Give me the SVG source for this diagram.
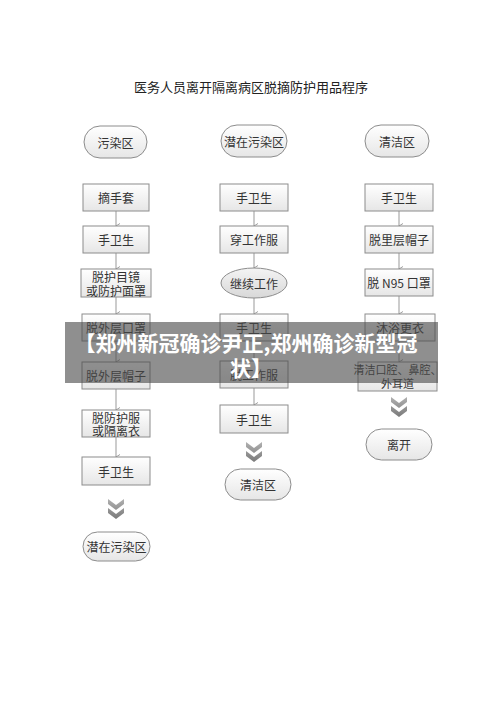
<svg xmlns="http://www.w3.org/2000/svg" width="500" height="706" viewBox="0 0 500 706">
<defs>
<linearGradient id="gb" x1="0" y1="0" x2="0" y2="1"><stop offset="0" stop-color="#ffffff"/><stop offset="1" stop-color="#e6e6e6"/></linearGradient>
<linearGradient id="ge" x1="0" y1="0" x2="0" y2="1"><stop offset="0" stop-color="#f4f4f4"/><stop offset="1" stop-color="#d8d8d8"/></linearGradient>
<linearGradient id="gc" x1="0" y1="0" x2="0" y2="1"><stop offset="0" stop-color="#b0b0b0"/><stop offset="1" stop-color="#7a7a7a"/></linearGradient>
<marker id="ah" markerWidth="6" markerHeight="6" refX="3" refY="5" orient="auto-start-reverse" markerUnits="userSpaceOnUse"><path d="M0.5,1 L3,5 L5.5,1" fill="none" stroke="#888" stroke-width="0.8"/></marker>
<path id="chev" d="M-8,0 L0,6 L8,0 L8,5 L0,11 L-8,5 Z M-8,9 L0,15 L8,9 L8,14 L0,20 L-8,14 Z" fill="url(#gc)"/>
</defs>
<style>
.t{font-family:"Noto Sans CJK SC","Liberation Sans",sans-serif;font-size:12px;fill:#333;text-anchor:middle;dominant-baseline:central}
.box{fill:url(#gb);stroke:#8c8c8c;stroke-width:1}
.pill{fill:url(#gb);stroke:#8c8c8c;stroke-width:1}
.ln{stroke:#999;stroke-width:1;fill:none;marker-end:url(#ah)}
.ttl{font-family:"Noto Sans CJK SC","Liberation Sans",sans-serif;font-size:13px;fill:#222;text-anchor:middle}
.ban{font-family:"Noto Sans CJK SC","Liberation Sans",sans-serif;font-size:21px;font-weight:bold;fill:#fff;text-anchor:middle}
</style>
<rect width="500" height="706" fill="#fff"/>
<text class="ttl" x="251" y="92">医务人员离开隔离病区脱摘防护用品程序</text>

<g id="connectors">
<line class="ln" x1="116" y1="211" x2="116" y2="226"/>
<line class="ln" x1="116" y1="253" x2="116" y2="269"/>
<line class="ln" x1="116" y1="297" x2="116" y2="314"/>
<line class="ln" x1="116" y1="341" x2="116" y2="362"/>
<line class="ln" x1="116" y1="389" x2="116" y2="410"/>
<line class="ln" x1="116" y1="437" x2="116" y2="457"/>
<line class="ln" x1="254" y1="211" x2="254" y2="226"/>
<line class="ln" x1="254" y1="253" x2="254" y2="268"/>
<line class="ln" x1="254" y1="298" x2="254" y2="314"/>
<line class="ln" x1="254" y1="341" x2="254" y2="361"/>
<line class="ln" x1="254" y1="388" x2="254" y2="405"/>
<line class="ln" x1="399" y1="211" x2="399" y2="226"/>
<line class="ln" x1="399" y1="253" x2="399" y2="269"/>
<line class="ln" x1="399" y1="296" x2="399" y2="314"/>
<line class="ln" x1="399" y1="341" x2="399" y2="362"/>
<use href="#chev" x="116" y="499"/>
<use href="#chev" x="254" y="442"/>
<use href="#chev" x="399" y="397"/>
</g>

<g id="n-wr"><rect class="pill" x="84" y="126" width="63" height="32" rx="16"/><text class="t" x="115.5" y="142">污染区</text></g>
<g id="n-qz"><rect class="pill" x="221" y="125" width="66" height="32" rx="16"/><text class="t" x="254" y="141">潜在污染区</text></g>
<g id="n-qj"><rect class="pill" x="365" y="125" width="64" height="32" rx="16"/><text class="t" x="397" y="141">清洁区</text></g>

<g id="c1-1"><rect class="box" x="83" y="184" width="66" height="27"/><text class="t" x="116" y="197.5">摘手套</text></g>
<g id="c1-2"><rect class="box" x="83" y="226" width="66" height="27"/><text class="t" x="116" y="239.5">手卫生</text></g>
<g id="c1-3"><rect class="box" x="81" y="269" width="70" height="28"/><text class="t" x="116" y="276">脱护目镜</text><text class="t" x="116" y="290">或防护面罩</text></g>
<g id="c1-4"><rect class="box" x="82" y="314" width="68" height="27"/><text class="t" x="116" y="327.5">脱外层口罩</text></g>
<g id="c1-5"><rect class="box" x="82" y="362" width="68" height="27"/><text class="t" x="116" y="375.5">脱外层帽子</text></g>
<g id="c1-6"><rect class="box" x="82" y="410" width="68" height="27"/><text class="t" x="116" y="417">脱防护服</text><text class="t" x="116" y="430">或隔离衣</text></g>
<g id="c1-7"><rect class="box" x="82" y="457" width="68" height="28"/><text class="t" x="116" y="471">手卫生</text></g>
<g id="c1-end"><rect class="pill" x="83" y="532" width="67" height="29" rx="14.5"/><text class="t" x="116.5" y="546.5">潜在污染区</text></g>

<g id="c2-1"><rect class="box" x="220" y="184" width="68" height="27"/><text class="t" x="254" y="197.5">手卫生</text></g>
<g id="c2-2"><rect class="box" x="220" y="226" width="68" height="27"/><text class="t" x="254" y="239.5">穿工作服</text></g>
<g id="c2-3"><ellipse cx="254" cy="283" rx="33" ry="15" fill="url(#ge)" stroke="#8c8c8c"/><text class="t" x="254" y="283">继续工作</text></g>
<g id="c2-4"><rect class="box" x="220" y="314" width="68" height="27"/><text class="t" x="254" y="327.5">手卫生</text></g>
<g id="c2-5"><rect class="box" x="220" y="361" width="68" height="27"/><text class="t" x="254" y="374.5">脱工作服</text></g>
<g id="c2-6"><rect class="box" x="220" y="405" width="68" height="28"/><text class="t" x="254" y="419">手卫生</text></g>
<g id="c2-end"><rect class="pill" x="225" y="469" width="66" height="31" rx="15.5"/><text class="t" x="258" y="484.5">清洁区</text></g>

<g id="c3-1"><rect class="box" x="365" y="184" width="68" height="27"/><text class="t" x="399" y="197.5">手卫生</text></g>
<g id="c3-2"><rect class="box" x="365" y="226" width="68" height="27"/><text class="t" x="399" y="239.5">脱里层帽子</text></g>
<g id="c3-3"><rect class="box" x="365" y="269" width="68" height="27"/><text class="t" x="399" y="282.5">脱 N95 口罩</text></g>
<g id="c3-4"><rect class="box" x="365" y="314" width="70" height="27"/><text class="t" x="400" y="327.5">沐浴更衣</text></g>
<g id="c3-5"><rect class="box" x="358" y="362" width="79" height="29"/><text class="t" x="397.5" y="369" style="font-size:11px">清洁口腔、鼻腔、</text><text class="t" x="397.5" y="383" style="font-size:11px">外耳道</text></g>
<g id="c3-end"><rect class="pill" x="366" y="429" width="66" height="31" rx="15.5"/><text class="t" x="399" y="444.5">离开</text></g>

<g id="banner">
<rect x="65" y="322" width="373" height="61" fill="#4a4a4a" fill-opacity="0.62"/>
<text class="ban" x="246" y="351">【郑州新冠确诊尹正,郑州确诊新型冠</text>
<text class="ban" x="251" y="376">状】</text>
</g>
</svg>
